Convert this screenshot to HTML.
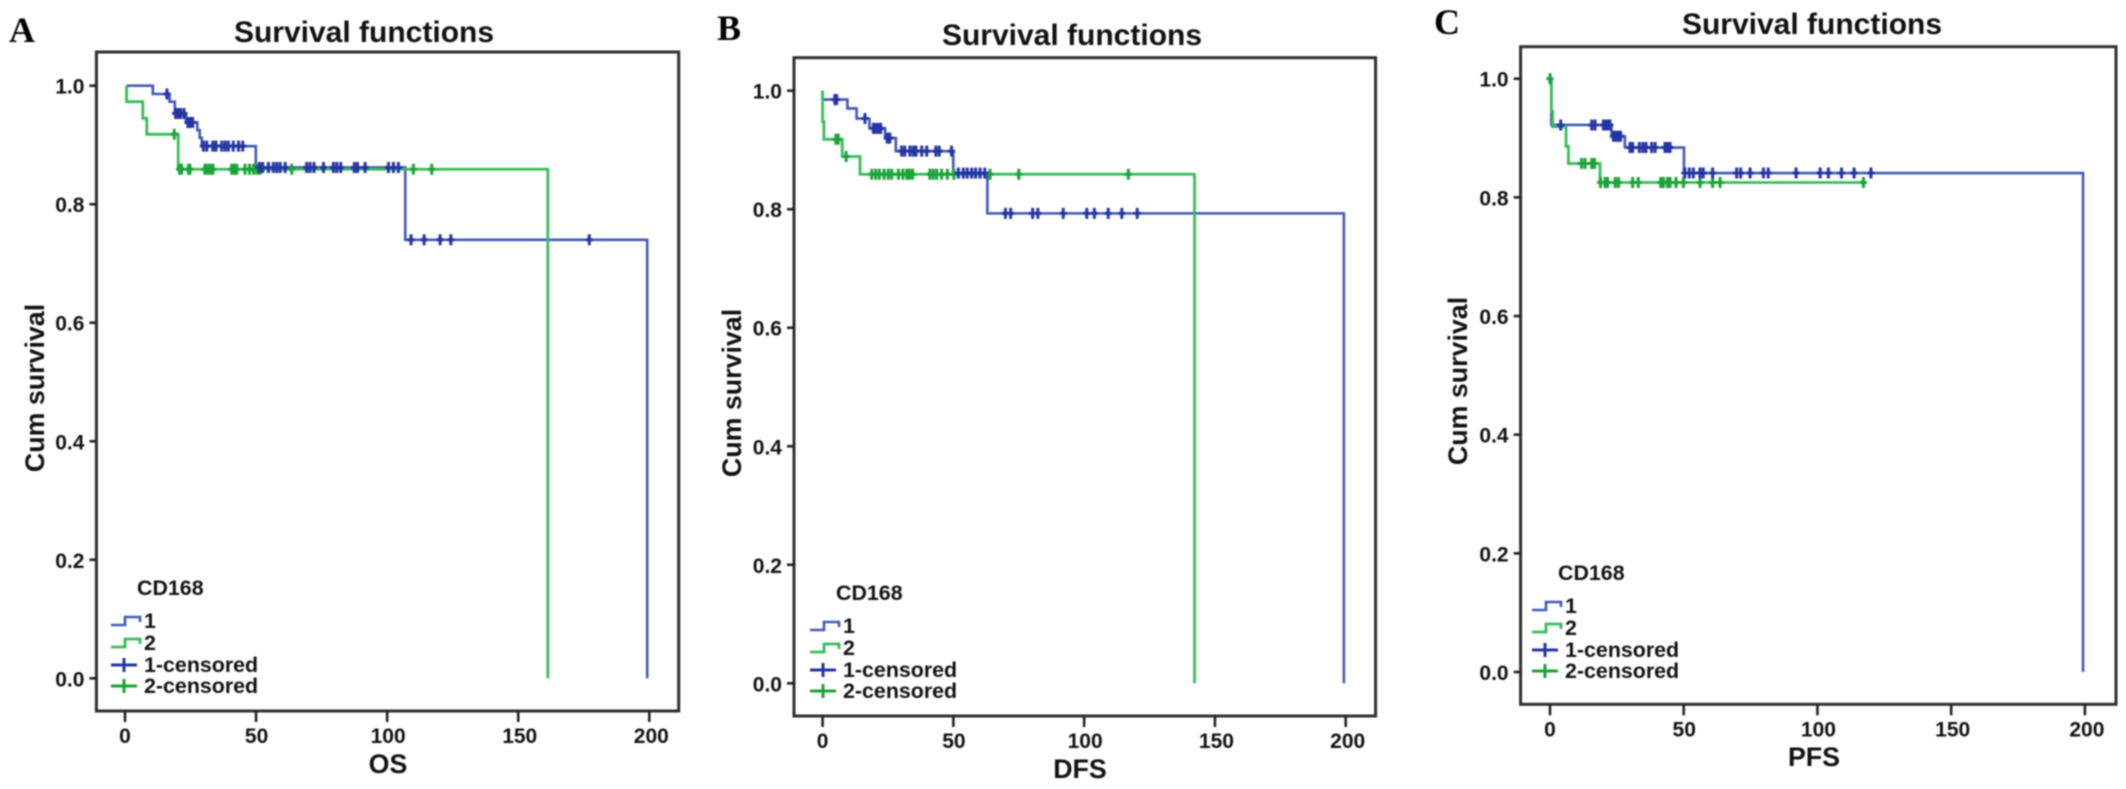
<!DOCTYPE html>
<html lang="en">
<head>
<meta charset="utf-8">
<title>Survival functions by CD168</title>
<style>
html,body{margin:0;padding:0;background:#fff;width:2126px;height:789px;overflow:hidden}
svg{display:block;filter:blur(0.8px)}
text{font-family:"Liberation Sans",sans-serif;font-weight:bold;fill:#111}
.letter{font-family:"Liberation Serif",serif;font-size:36px;fill:#000}
.title{font-size:30px;text-anchor:middle}
.axis-title{font-size:26.8px;text-anchor:middle}
.lg{font-size:21.4px}
.l1{fill:none;stroke:#4058b8;stroke-width:2.6}
.l2{fill:none;stroke:#38bc5a;stroke-width:2.8}
.c1{fill:none;stroke:#2434a2;stroke-width:3}
.c2{fill:none;stroke:#1ca238;stroke-width:3}
</style>
</head>
<body>
<svg id="chart" width="2126" height="789" viewBox="0 0 2126 789" xmlns="http://www.w3.org/2000/svg">
  <rect x="0" y="0" width="2126" height="789" fill="#fff"/>

  <g id="panel-a">
    <text class="letter" x="9" y="42">A</text>
    <text class="title" x="364" y="42">Survival functions</text>
    <text class="axis-title" x="388" y="773">OS</text>
    <text class="axis-title" transform="translate(44,388) rotate(-90)">Cum survival</text>
  </g>
  <g id="panel-b">
    <text class="letter" x="717" y="40">B</text>
    <text class="title" x="1072" y="45">Survival functions</text>
    <text class="axis-title" x="1080" y="778">DFS</text>
    <text class="axis-title" transform="translate(741,393) rotate(-90)">Cum survival</text>
  </g>
  <g id="panel-c">
    <text class="letter" x="1434" y="34">C</text>
    <text class="title" x="1812" y="34">Survival functions</text>
    <text class="axis-title" x="1814" y="766">PFS</text>
    <text class="axis-title" transform="translate(1467,381) rotate(-90)">Cum survival</text>
  </g>

  <g transform="translate(111,595)">
    <text class="lg" x="26" y="0">CD168</text>
    <path class="l1" d="M0 30H14V22H29V27"/>
    <text class="lg" x="33" y="33">1</text>
    <path class="l2" d="M0 52H14V44H29V49"/>
    <text class="lg" x="33" y="55">2</text>
    <path class="c1" d="M0 70H26M13 63V77"/>
    <text class="lg" x="33" y="77">1-censored</text>
    <path class="c2" d="M0 91H26M13 84V98"/>
    <text class="lg" x="33" y="98">2-censored</text>
  </g>
  <g transform="translate(810,600)">
    <text class="lg" x="26" y="0">CD168</text>
    <path class="l1" d="M0 30H14V22H29V27"/>
    <text class="lg" x="33" y="33">1</text>
    <path class="l2" d="M0 52H14V44H29V49"/>
    <text class="lg" x="33" y="55">2</text>
    <path class="c1" d="M0 70H26M13 63V77"/>
    <text class="lg" x="33" y="77">1-censored</text>
    <path class="c2" d="M0 91H26M13 84V98"/>
    <text class="lg" x="33" y="98">2-censored</text>
  </g>
  <g transform="translate(1532,580)">
    <text class="lg" x="26" y="0">CD168</text>
    <path class="l1" d="M0 30H14V22H29V27"/>
    <text class="lg" x="33" y="33">1</text>
    <path class="l2" d="M0 52H14V44H29V49"/>
    <text class="lg" x="33" y="55">2</text>
    <path class="c1" d="M0 70H26M13 63V77"/>
    <text class="lg" x="33" y="77">1-censored</text>
    <path class="c2" d="M0 91H26M13 84V98"/>
    <text class="lg" x="33" y="98">2-censored</text>
  </g>
</svg>

<script>
// Axis tick values
var xTickValues = [0, 50, 100, 150, 200];
var yTickValues = [0, 0.2, 0.4, 0.6, 0.8, 1.0];

// Panel A (OS)
var osGroup1Times = [0.6, 10.6, 17, 19, 23.3, 27.6, 28.5, 29.3, 49.9, 106.9, 199.2];
var osGroup1Survival = [1, 0.986, 0.973, 0.953, 0.938, 0.925, 0.912, 0.898, 0.862, 0.74, 0];
var osGroup1Censored = [16, 19.3, 20.4, 21.2, 22.5, 24, 24.8, 25.8, 29.9, 31.2, 33.5, 34.7, 36.9, 38.2, 39.4, 41.3, 43.3, 44.9, 51.3, 52.5, 54.7, 56.6, 57.9, 59.2, 61.1, 69.3, 70.6, 72.1, 75.7, 79.5, 80.8, 82.3, 87.5, 88.7, 91.6, 100.5, 102.4, 104.3, 109.1, 114.1, 120.2, 124.3, 177.1];
var osGroup2Times = [0.6, 0.6, 6.8, 8.3, 20.3, 161.3];
var osGroup2Survival = [1, 0.973, 0.945, 0.918, 0.859, 0];
var osGroup2Censored = [18.8, 20.8, 21.6, 24.2, 24.8, 30.5, 31.2, 32.4, 33.5, 40.7, 41.6, 42.6, 45.8, 47.5, 49, 50.3, 51.5, 63.6, 110, 117];

// Panel B (DFS)
var dfsGroup1Times = [0, 0, 9.5, 13, 17.9, 23.9, 28, 49.96, 63, 199.3];
var dfsGroup1Survival = [1, 0.985, 0.97, 0.953, 0.9365, 0.92, 0.898, 0.861, 0.793, 0];
var dfsGroup1Censored = [4.7, 5.4, 16.2, 19.4, 20.3, 21.3, 22.2, 24.7, 25.7, 30.2, 31.4, 33.4, 34.7, 35.7, 37.9, 39.8, 43.3, 44.6, 49.3, 51.9, 53.8, 55.3, 57, 58.5, 60.2, 62, 69.9, 71.9, 80.3, 82.3, 92, 101, 103.9, 109.2, 114.4, 120.3];
var dfsGroup2Times = [0, 0, 0.5, 7.5, 14.3, 142.2];
var dfsGroup2Survival = [1, 0.948, 0.918, 0.889, 0.859, 0];
var dfsGroup2Censored = [5.1, 6, 9, 18.8, 20.3, 21.7, 23.5, 25.1, 26.4, 29, 30.7, 32.2, 33.2, 34.4, 41, 42.3, 43.6, 45.5, 47.7, 50.2, 64, 75, 116.9];

// Panel C (PFS)
var pfsGroup1Times = [0, 0.5, 23, 28, 50.1, 199.3];
var pfsGroup1Survival = [1, 0.922, 0.903, 0.884, 0.841, 0];
var pfsGroup1Censored = [4, 15.6, 16.8, 20, 21, 21.8, 22.4, 23.7, 24.7, 25.5, 26.4, 29.9, 30.9, 33.4, 34.7, 35.9, 38, 39.3, 43, 43.9, 44.9, 50.4, 52.1, 53.6, 56.1, 57.3, 60.8, 69.8, 71.3, 74.8, 79.8, 81.6, 92, 101, 104.1, 109, 113.7, 120];
var pfsGroup2Times = [0, 0.5, 1, 6, 6.9, 18.7, 117.4];
var pfsGroup2Survival = [1, 0.945, 0.919, 0.886, 0.857, 0.825, 0.825];
var pfsGroup2Censored = [0, 11.8, 13.1, 15.6, 16.6, 18.9, 20.6, 21.5, 24.4, 25.6, 30.9, 33, 41.4, 42.4, 43.9, 44.9, 47.1, 49.9, 56.1, 60.8, 63.6, 117.2];

var svgNS = 'http://www.w3.org/2000/svg';

function makeNode(parent, tag, attrs, content) {
  var node = document.createElementNS(svgNS, tag);
  for (var key in attrs) { node.setAttribute(key, attrs[key]); }
  if (content !== undefined) { node.textContent = content; }
  parent.appendChild(node);
  return node;
}

function survivalAt(times, survival, t) {
  var value = survival[0];
  for (var i = 0; i < times.length; i++) {
    if (times[i] <= t) { value = survival[i]; }
  }
  return value;
}

function drawCurve(group, xAxis, yAxis, times, survival, cssClass, name) {
  var d = 'M' + xAxis(times[0]) + ' ' + yAxis(survival[0]);
  for (var i = 1; i < times.length; i++) {
    d += 'H' + xAxis(times[i]) + 'V' + yAxis(survival[i]);
  }
  var curve = makeNode(group, 'path', { d: d, 'class': cssClass });
  
  
}

function drawCensored(group, xAxis, yAxis, times, survival, censored, cssClass, name) {
  censored.forEach(function (t) {
    var px = xAxis(t);
    var py = yAxis(survivalAt(times, survival, t));
    var mark = makeNode(group, 'path', {
      d: 'M' + (px - 3.5) + ' ' + py + 'H' + (px + 3.5) + 'M' + px + ' ' + (py - 5.5) + 'V' + (py + 5.5),
      'class': cssClass
    });
    
    
  });
}

function drawPanel(cfg) {
  var group = document.getElementById(cfg.id);
  var xAxis = function (t) { return cfg.x0 + t * (cfg.x200 - cfg.x0) / 200; };
  var yAxis = function (s) { return cfg.y0 + s * (cfg.y1 - cfg.y0); };

  var frame = makeNode(group, 'rect', {
    x: cfg.left, y: cfg.top, width: cfg.right - cfg.left, height: cfg.bottom - cfg.top,
    fill: 'none', stroke: '#2e2e2e', 'stroke-width': 3
  });
  
  

  yTickValues.forEach(function (v) {
    var tick = makeNode(group, 'line', {
      x1: cfg.left - 7, x2: cfg.left, y1: yAxis(v), y2: yAxis(v), stroke: '#222', 'stroke-width': 2.6
    });
    
    
    var label = makeNode(group, 'text', {
      x: cfg.left - 12, y: yAxis(v) + 8, 'text-anchor': 'end', 'font-size': 21
    }, v.toFixed(1));
    
    
  });

  xTickValues.forEach(function (v) {
    var tick = makeNode(group, 'line', {
      x1: xAxis(v), x2: xAxis(v), y1: cfg.bottom, y2: cfg.bottom + 11, stroke: '#222', 'stroke-width': 2.6
    });
    
    
    var label = makeNode(group, 'text', {
      x: xAxis(v) + v / 100, y: cfg.bottom + 32, 'text-anchor': 'middle', 'font-size': 21
    }, String(v));
    
    
  });

  drawCurve(group, xAxis, yAxis, cfg.t1, cfg.s1, 'l1', 'survival-curve-group-1');
  drawCurve(group, xAxis, yAxis, cfg.t2, cfg.s2, 'l2', 'survival-curve-group-2');
  drawCensored(group, xAxis, yAxis, cfg.t2, cfg.s2, cfg.c2, 'c2', 'censored-mark-group-2');
  drawCensored(group, xAxis, yAxis, cfg.t1, cfg.s1, cfg.c1, 'c1', 'censored-mark-group-1');
}

drawPanel({
  id: 'panel-a', left: 96.4, right: 678.7, top: 52, bottom: 711,
  x0: 125, x200: 649.3, y0: 678.3, y1: 85.7,
  t1: osGroup1Times, s1: osGroup1Survival, c1: osGroup1Censored,
  t2: osGroup2Times, s2: osGroup2Survival, c2: osGroup2Censored
});
drawPanel({
  id: 'panel-b', left: 794, right: 1375.6, top: 57.7, bottom: 716,
  x0: 822.6, x200: 1345.7, y0: 683.3, y1: 90.7,
  t1: dfsGroup1Times, s1: dfsGroup1Survival, c1: dfsGroup1Censored,
  t2: dfsGroup2Times, s2: dfsGroup2Survival, c2: dfsGroup2Censored
});
drawPanel({
  id: 'panel-c', left: 1520.6, right: 2116, top: 46.7, bottom: 704.3,
  x0: 1550, x200: 2084.9, y0: 672, y1: 78.7,
  t1: pfsGroup1Times, s1: pfsGroup1Survival, c1: pfsGroup1Censored,
  t2: pfsGroup2Times, s2: pfsGroup2Survival, c2: pfsGroup2Censored
});
</script>
</body>
</html>
